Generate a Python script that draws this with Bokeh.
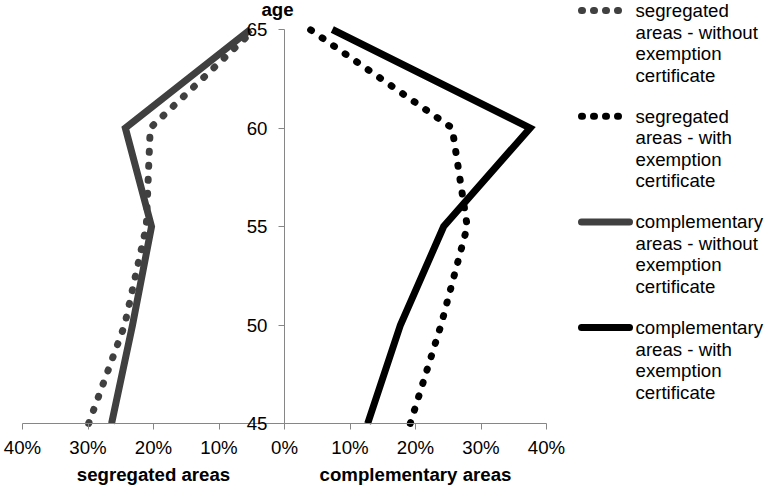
from bokeh.plotting import figure
from bokeh.models import Range1d, FixedTicker, Label, LinearAxis
from bokeh.layouts import row
from bokeh.core.properties import value
from bokeh.embed import file_html
from bokeh.resources import INLINE

# ---------------- data ----------------
ages = [45, 50, 55, 60, 65]

# left panel (segregated areas), percent
seg_without = [29.9, 24.4, 21.1, 20.5, 4.6]      # grey dotted
comp_without = [26.4, 23.2, 20.3, 24.3, 5.2]     # grey solid
# right panel (complementary areas), percent
seg_with = [19.2, 23.9, 27.9, 25.6, 3.9]         # black dotted
comp_with = [12.7, 17.7, 24.3, 37.5, 7.3]        # black solid

tick_pcts = [0, 10, 20, 30, 40]

legend_lines = [
    ["segregated", "areas - without", "exemption", "certificate"],
    ["segregated", "areas - with", "exemption", "certificate"],
    ["complementary", "areas - without", "exemption", "certificate"],
    ["complementary", "areas - with", "exemption", "certificate"],
]

FONT = "Liberation Sans"
FS = "14pt"
GREY = "#404040"
BLACK = "#000000"
AXIS = "#868686"

W, H = 570, 487
# pixel geometry of the plotting area inside the canvas
X0, X1 = 22, 546      # -40% .. +40%
Y65, Y45 = 29, 423    # age 65 .. age 45
kx = (X1 - X0) / 80.0
ky = (Y45 - Y65) / 20.0

p = figure(width=W, height=H, output_backend="svg", toolbar_location=None,
           x_range=Range1d(-40 - X0 / kx, 40 + (W - X1) / kx),
           y_range=Range1d(45 - (H - Y45) / ky, 65 + Y65 / ky),
           x_axis_location=None, y_axis_location=None,
           min_border_left=0, min_border_right=0, min_border_top=0, min_border_bottom=0)
p.outline_line_color = None
p.grid.visible = False


def style_axis(ax):
    ax.axis_line_color = AXIS
    ax.major_tick_line_color = AXIS
    ax.major_tick_in = 0
    ax.major_tick_out = 6
    ax.minor_tick_line_color = None
    ax.major_label_text_font = FONT
    ax.major_label_text_font_size = FS
    ax.major_label_text_color = "black"
    ax.axis_label_text_font = FONT
    ax.axis_label_text_font_size = FS
    ax.axis_label_text_font_style = "bold"
    ax.axis_label_text_color = "black"


lt = [-v for v in tick_pcts]
ax_l = LinearAxis(fixed_location=45, bounds=(-40, 0), ticker=FixedTicker(ticks=lt),
                  major_label_overrides={t: f"{abs(t)}%" for t in lt},
                  axis_label="segregated areas")
style_axis(ax_l)
ax_l.major_label_standoff = 7
ax_l.axis_label_standoff = 3
p.add_layout(ax_l, "below")

rt = [t for t in tick_pcts if t != 0]   # 0% is already drawn by the left axis
ax_r = LinearAxis(fixed_location=45, bounds=(0, 40), ticker=FixedTicker(ticks=rt),
                  major_label_overrides={t: f"{t}%" for t in rt},
                  axis_label="complementary areas")
style_axis(ax_r)
ax_r.major_label_standoff = 7
ax_r.axis_label_standoff = 3
p.add_layout(ax_r, "below")

ax_y = LinearAxis(fixed_location=0, bounds=(45, 65), ticker=FixedTicker(ticks=ages))
style_axis(ax_y)
ax_y.major_label_standoff = 11
ax_y.major_label_orientation = "horizontal"
p.add_layout(ax_y, "left")

neg = lambda v: [-x for x in v]
p.line(neg(comp_without), ages, line_color=GREY, line_width=7, line_join="miter")
p.line(neg(seg_without), ages, line_color=GREY, line_width=7, line_dash="1 13", line_cap="round")
p.line(comp_with, ages, line_color=BLACK, line_width=7, line_join="miter")
p.line(seg_with, ages, line_color=BLACK, line_width=7, line_dash="1 13", line_cap="round")

p.add_layout(Label(x=0, y=65 + 20 / ky, x_offset=-7, text="age", text_align="center",
                   text_baseline="middle", text_font=FONT, text_font_size=FS,
                   text_font_style="bold", text_color="black"))

# ---------------- legend figure (canvas-pixel coordinates) ----------------
leg = figure(width=767 - W, height=H, output_backend="svg", toolbar_location=None,
             x_range=Range1d(W, 767), y_range=Range1d(H, 0),
             x_axis_location=None, y_axis_location=None,
             min_border_left=0, min_border_right=0, min_border_top=0, min_border_bottom=0)
leg.outline_line_color = None
leg.grid.visible = False

styles = [
    dict(line_color=GREY, line_width=7, line_dash="1 11", line_cap="round"),
    dict(line_color=BLACK, line_width=7, line_dash="1 11", line_cap="round"),
    dict(line_color=GREY, line_width=7, line_cap="round"),
    dict(line_color=BLACK, line_width=7, line_cap="round"),
]
tx, ty, tt = [], [], []
for i, lines in enumerate(legend_lines):
    y0 = 10 + i * 105.7
    leg.line([581, 629], [y0, y0], **styles[i])
    for j, s in enumerate(lines):
        tx.append(635)
        ty.append(y0 + j * 21.5)
        tt.append(s)
leg.text(x=tx, y=ty, text=tt, text_align="left", text_baseline="middle",
         text_font=value(FONT), text_font_size=FS, text_color="black")

layout = row(p, leg)
open("out.html", "w").write(file_html(layout, INLINE))
